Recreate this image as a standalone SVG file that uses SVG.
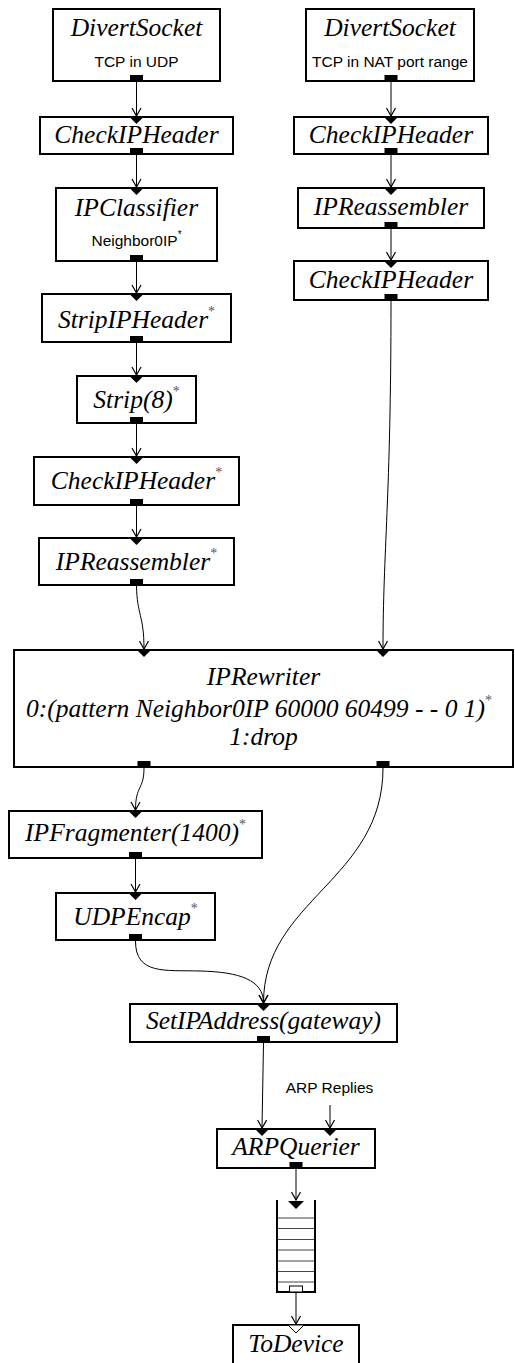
<svg xmlns="http://www.w3.org/2000/svg" width="515" height="1363" viewBox="0 0 515 1363">
<style>
.box{fill:#fff;stroke:#000;stroke-width:2}
.t{font-family:"Liberation Serif","Times New Roman",serif;font-style:italic;font-size:25.5px;fill:#000;text-anchor:middle}
.s{font-family:"Liberation Sans",Arial,sans-serif;font-size:15.5px;fill:#000;text-anchor:middle}
.ast{font-size:14px;fill:#555;font-style:normal}
.asts{font-size:10px;fill:#000}
.port{fill:#000}
.in{fill:#000}
.pin{fill:#fff;stroke:#000;stroke-width:1}
.c{fill:none;stroke:#000;stroke-width:1;marker-end:url(#ah)}
.q{fill:none;stroke:#000;stroke-width:2}
.ql{stroke:#444;stroke-width:1}
</style>
<defs>
<marker id="ah" markerUnits="userSpaceOnUse" markerWidth="12" markerHeight="12" viewBox="-10 -6 12 12" refX="0" refY="0" orient="auto" overflow="visible">
<path d="M-8,-4.5 L0,0 L-8,4.5" fill="none" stroke="#000" stroke-width="1.2"/>
</marker>
</defs>

<g id="connectors">
<path class="c" d="M136.5,82 L136.5,116"/>
<path class="c" d="M136.5,155 L136.5,187"/>
<path class="c" d="M136.5,262 L136.5,293"/>
<path class="c" d="M136.5,343 L136.5,375"/>
<path class="c" d="M136.5,424 L136.5,456"/>
<path class="c" d="M136.5,506 L136.5,537"/>
<path class="c" d="M136.5,586 C137,615 144,615 144,649"/>
<path class="c" d="M391,82 L391,116"/>
<path class="c" d="M391,155 L391,187"/>
<path class="c" d="M391,229 L391,260"/>
<path class="c" d="M391,301 C391,500 383,550 383,649"/>
<path class="c" d="M144,768 C144,790 135.5,785 135.5,810"/>
<path class="c" d="M135.5,859 L135.5,892"/>
<path class="c" d="M135.5,941 C135.5,975 165,970 200,971 C240,972 263.5,980 263.5,1003"/>
<path class="c" d="M383,768 C383,880 263.5,900 263.5,1003"/>
<path class="c" d="M263.5,1043 L262,1128"/>
<path class="c" d="M330,1105 L330,1128"/>
<path class="c" d="M296,1169 L296,1200"/>
<path class="c" d="M296,1293 L296,1324"/>
</g>

<g id="divertsocket-udp">
<rect class="box" x="53" y="9" width="167" height="72"/>
<text class="t" x="136.5" y="36">DivertSocket</text>
<text class="s" x="136.5" y="67">TCP in UDP</text>
<rect class="port" x="130" y="75" width="13" height="7"/>
</g>

<g id="checkipheader-1">
<rect class="box" x="40" y="117" width="193" height="37"/>
<polygon class="in" points="128.5,116 144.5,116 136.5,124"/>
<text class="t" x="136.5" y="143">CheckIPHeader</text>
<rect class="port" x="130" y="148" width="13" height="7"/>
</g>

<g id="ipclassifier">
<rect class="box" x="56" y="188" width="161" height="73"/>
<polygon class="in" points="128.5,187 144.5,187 136.5,195"/>
<text class="t" x="136.5" y="216">IPClassifier</text>
<text class="s" x="136.5" y="246">Neighbor0IP<tspan class="asts" dy="-8">*</tspan></text>
<rect class="port" x="130" y="255" width="13" height="7"/>
</g>

<g id="stripipheader">
<rect class="box" x="42" y="294" width="189" height="48"/>
<polygon class="in" points="128.5,293 144.5,293 136.5,301"/>
<text class="t" x="136.5" y="328">StripIPHeader<tspan class="ast" dy="-12">*</tspan></text>
<rect class="port" x="130" y="336" width="13" height="7"/>
</g>

<g id="strip8">
<rect class="box" x="77" y="376" width="119" height="47"/>
<polygon class="in" points="128.5,375 144.5,375 136.5,383"/>
<text class="t" x="136.5" y="408">Strip(8)<tspan class="ast" dy="-12">*</tspan></text>
<rect class="port" x="130" y="417" width="13" height="7"/>
</g>

<g id="checkipheader-2">
<rect class="box" x="34" y="457" width="205" height="48"/>
<polygon class="in" points="128.5,456 144.5,456 136.5,464"/>
<text class="t" x="136.5" y="489">CheckIPHeader<tspan class="ast" dy="-12">*</tspan></text>
<rect class="port" x="130" y="499" width="13" height="7"/>
</g>

<g id="ipreassembler-1">
<rect class="box" x="39" y="538" width="195" height="47"/>
<polygon class="in" points="128.5,537 144.5,537 136.5,545"/>
<text class="t" x="136.5" y="570">IPReassembler<tspan class="ast" dy="-12">*</tspan></text>
<rect class="port" x="130" y="579" width="13" height="7"/>
</g>

<g id="divertsocket-nat">
<rect class="box" x="306" y="9" width="168" height="72"/>
<text class="t" x="390" y="36">DivertSocket</text>
<text class="s" x="390" y="67">TCP in NAT port range</text>
<rect class="port" x="384.5" y="75" width="13" height="7"/>
</g>

<g id="checkipheader-3">
<rect class="box" x="294" y="117" width="194" height="37"/>
<polygon class="in" points="383,116 399,116 391,124"/>
<text class="t" x="391" y="143">CheckIPHeader</text>
<rect class="port" x="384.5" y="148" width="13" height="7"/>
</g>

<g id="ipreassembler-2">
<rect class="box" x="298" y="188" width="186" height="40"/>
<polygon class="in" points="383,187 399,187 391,195"/>
<text class="t" x="391" y="215">IPReassembler</text>
<rect class="port" x="384.5" y="222" width="13" height="7"/>
</g>

<g id="checkipheader-4">
<rect class="box" x="294" y="261" width="194" height="39"/>
<polygon class="in" points="383,260 399,260 391,268"/>
<text class="t" x="391" y="288">CheckIPHeader</text>
<rect class="port" x="384.5" y="294" width="13" height="7"/>
</g>

<g id="iprewriter">
<rect class="box" x="14" y="650" width="499" height="117"/>
<polygon class="in" points="136,649 152,649 144,657"/>
<polygon class="in" points="375,649 391,649 383,657"/>
<text class="t" x="263.5" y="685">IPRewriter</text>
<text class="t" x="259" y="717">0:(pattern Neighbor0IP 60000 60499 - - 0 1)<tspan class="ast" dy="-12">*</tspan></text>
<text class="t" x="263.5" y="745">1:drop</text>
<rect class="port" x="137.5" y="761" width="13" height="7"/>
<rect class="port" x="376.5" y="761" width="13" height="7"/>
</g>

<g id="ipfragmenter">
<rect class="box" x="9" y="811" width="253" height="47"/>
<polygon class="in" points="127.5,810 143.5,810 135.5,818"/>
<text class="t" x="135.5" y="841">IPFragmenter(1400)<tspan class="ast" dy="-12">*</tspan></text>
<rect class="port" x="129" y="852" width="13" height="7"/>
</g>

<g id="udpencap">
<rect class="box" x="56" y="893" width="159" height="47"/>
<polygon class="in" points="127.5,892 143.5,892 135.5,900"/>
<text class="t" x="135.5" y="925">UDPEncap<tspan class="ast" dy="-12">*</tspan></text>
<rect class="port" x="129" y="934" width="13" height="7"/>
</g>

<g id="setipaddress">
<rect class="box" x="130" y="1004" width="267" height="38"/>
<polygon class="in" points="255.5,1003 271.5,1003 263.5,1011"/>
<text class="t" x="263.5" y="1029">SetIPAddress(gateway)</text>
<rect class="port" x="257" y="1036" width="13" height="7"/>
</g>

<g id="arp-replies">
<text class="s" x="329.5" y="1093">ARP Replies</text>
</g>

<g id="arpquerier">
<rect class="box" x="217" y="1129" width="158" height="39"/>
<polygon class="in" points="254,1128 270,1128 262,1136"/>
<polygon class="in" points="322,1128 338,1128 330,1136"/>
<text class="t" x="296" y="1155">ARPQuerier</text>
<rect class="port" x="289.5" y="1162" width="13" height="7"/>
</g>

<g id="queue">
<line class="ql" x1="277" y1="1218" x2="315" y2="1218"/>
<line class="ql" x1="277" y1="1228.5" x2="315" y2="1228.5"/>
<line class="ql" x1="277" y1="1239.5" x2="315" y2="1239.5"/>
<line class="ql" x1="277" y1="1250" x2="315" y2="1250"/>
<line class="ql" x1="277" y1="1261" x2="315" y2="1261"/>
<line class="ql" x1="277" y1="1271.5" x2="315" y2="1271.5"/>
<line class="ql" x1="277" y1="1282" x2="315" y2="1282"/>
<path class="q" d="M277,1200 V1292 H315 V1200"/>
<polygon class="in" points="288,1201 304,1201 296,1209"/>
<rect class="pin" x="289.5" y="1286" width="13" height="6"/>
</g>

<g id="todevice">
<rect class="box" x="233" y="1325" width="126" height="40"/>
<polygon class="pin" points="288,1325 304,1325 296,1333"/>
<text class="t" x="296" y="1352">ToDevice</text>
</g>
</svg>
